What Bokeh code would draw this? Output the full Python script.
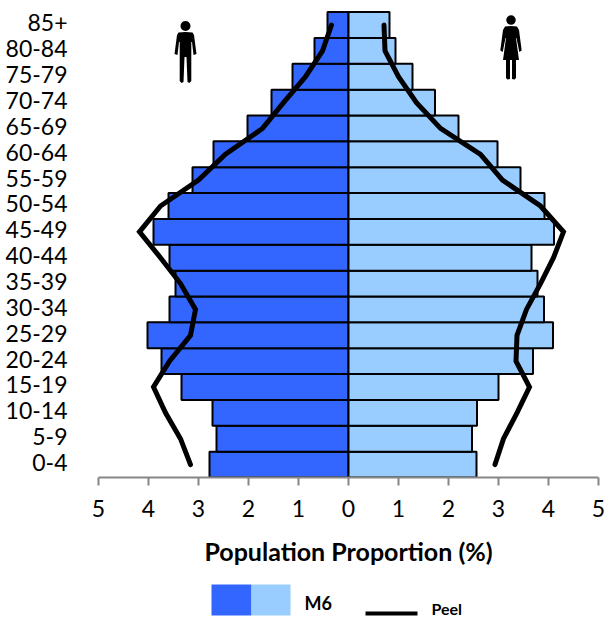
from bokeh.plotting import figure
from bokeh.models import ColumnDataSource, FixedTicker, Range1d
from bokeh.layouts import column
from bokeh.core.properties import value
from bokeh.embed import file_html
from bokeh.resources import INLINE

ages = ["0-4", "5-9", "10-14", "15-19", "20-24", "25-29", "30-34", "35-39", "40-44",
        "45-49", "50-54", "55-59", "60-64", "65-69", "70-74", "75-79", "80-84", "85+"]
m6_male = [2.78, 2.64, 2.72, 3.34, 3.74, 4.02, 3.58, 3.46, 3.58,
           3.90, 3.60, 3.12, 2.70, 2.02, 1.54, 1.12, 0.68, 0.42]
m6_female = [2.56, 2.47, 2.57, 3.00, 3.69, 4.09, 3.91, 3.78, 3.66,
             4.11, 3.92, 3.44, 2.98, 2.20, 1.73, 1.28, 0.94, 0.82]
peel_male = [3.16, 3.36, 3.66, 3.90, 3.58, 3.16, 3.06, 3.36, 3.76,
             4.18, 3.76, 3.00, 2.46, 1.72, 1.30, 0.86, 0.52, 0.34]
peel_female = [2.93, 3.10, 3.37, 3.62, 3.35, 3.37, 3.56, 3.84, 4.10,
               4.30, 3.84, 3.08, 2.64, 1.84, 1.36, 1.00, 0.73, 0.71]
x_ticks = [-5, -4, -3, -2, -1, 0, 1, 2, 3, 4, 5]

MALE_COLOR = "#3366FF"
FEMALE_COLOR = "#99CCFF"
FONT = "Lato"

pos = list(range(len(ages)))
src = ColumnDataSource(dict(
    y=pos,
    ml=[-v for v in m6_male], fr=m6_female, zero=[0] * len(ages),
    pm=[-v for v in peel_male], pf=peel_female,
))

p = figure(width=608, height=577, output_backend="svg", toolbar_location=None,
           x_range=Range1d(-5, 5), y_range=Range1d(-0.5, 17.6),
           min_border_left=98, min_border_right=10, min_border_top=9, min_border_bottom=100)
p.outline_line_color = None
p.grid.visible = False
p.background_fill_color = "white"

p.hbar(y="y", left="ml", right="zero", height=1, source=src,
       fill_color=MALE_COLOR, line_color="black", line_width=2)
p.hbar(y="y", left="zero", right="fr", height=1, source=src,
       fill_color=FEMALE_COLOR, line_color="black", line_width=2)
p.line(x="pm", y="y", source=src, line_color="black", line_width=5,
       line_cap="round", line_join="miter")
p.line(x="pf", y="y", source=src, line_color="black", line_width=5,
       line_cap="round", line_join="miter")

# Axes
xa = p.xaxis[0]
xa.ticker = FixedTicker(ticks=x_ticks)
xa.major_label_overrides = {t: str(abs(t)) for t in x_ticks}
xa.axis_line_color = "#868686"
xa.axis_line_width = 2
xa.major_tick_line_color = "#868686"
xa.major_tick_line_width = 2
xa.major_tick_in = 0
xa.major_tick_out = 8
xa.minor_tick_line_color = None
xa.major_label_standoff = 14
xa.major_label_text_font = FONT
xa.major_label_text_font_size = "23px"
xa.major_label_text_color = "black"
xa.axis_label = "Population Proportion (%)"
xa.axis_label_text_font = FONT
xa.axis_label_text_font_size = "25px"
xa.axis_label_text_font_style = "bold"
xa.axis_label_text_color = "black"
xa.axis_label_standoff = 16

# Age labels sit slightly above their band centres in the reference
label_lift = 0.08
label_ticks = [i + label_lift for i in pos]
ya = p.yaxis[0]
ya.ticker = FixedTicker(ticks=label_ticks)
ya.major_label_overrides = {t: a for t, a in zip(label_ticks, ages)}
ya.axis_line_color = None
ya.major_tick_line_color = None
ya.minor_tick_line_color = None
ya.major_label_standoff = 25
ya.major_label_text_font = FONT
ya.major_label_text_font_size = "23px"
ya.major_label_text_color = "black"


# Pictograms: outlines in pixel offsets, mirrored about a centre line
def to_x(px):
    return (px - 348) / 50


def to_y(py):
    return (477 - py) / 25.83 - 0.5


def figure_icon(cx, half):
    xs = [cx + dx for dx, _ in half] + [cx - dx for dx, _ in reversed(half)]
    ys = [dy for _, dy in half] + [dy for _, dy in reversed(half)]
    return [to_x(v) for v in xs], [to_y(v) for v in ys]


male_half = [(0, 32), (7, 32.5), (8.5, 35), (11, 54), (8, 55), (6.5, 42), (5.8, 42),
             (5.8, 81), (4, 83), (2, 82), (1, 57), (0, 57)]
female_half = [(0, 26), (6, 26.5), (8, 30), (10.7, 50.5), (8.3, 52), (5.5, 38), (5, 38), (8, 60),
               (5, 60), (5, 78), (3.5, 79.5), (1, 79), (1, 60), (0, 60)]

mx, my = figure_icon(185, male_half)
fx, fy = figure_icon(510.5, female_half)
p.patch(mx, my, fill_color="black", line_color=None)
p.patch(fx, fy, fill_color="black", line_color=None)
p.scatter([to_x(185)], [to_y(26)], marker="circle", size=10, fill_color="black", line_color=None)
p.scatter([to_x(510.5)], [to_y(20)], marker="circle", size=9.5, fill_color="black", line_color=None)

# Legend strip: same horizontal scale as the chart (frames are aligned in a column)
lg = figure(width=608, height=42, output_backend="svg", toolbar_location=None,
            x_range=Range1d(-5, 5), y_range=Range1d(42, 0),
            min_border_left=98, min_border_right=10, min_border_top=0, min_border_bottom=0)
lg.outline_line_color = None
lg.grid.visible = False
lg.axis.visible = False
lg.quad(left=[to_x(211)], right=[to_x(251)], top=[7], bottom=[38], fill_color=MALE_COLOR, line_color=None)
lg.quad(left=[to_x(251)], right=[to_x(290)], top=[7], bottom=[38], fill_color=FEMALE_COLOR, line_color=None)
lg.line([to_x(365), to_x(417)], [36, 36], line_color="black", line_width=4)
lg.text([to_x(304)], [25], text=["M6"], text_font=value(FONT), text_font_size="18px",
        text_font_style="bold", text_baseline="middle", text_color="black")
lg.text([to_x(431)], [31], text=["Peel"], text_font=value(FONT), text_font_size="16px",
        text_font_style="bold", text_baseline="middle", text_color="black")

layout = column(p, lg, spacing=0)
open("out.html", "w").write(file_html(layout, INLINE))
